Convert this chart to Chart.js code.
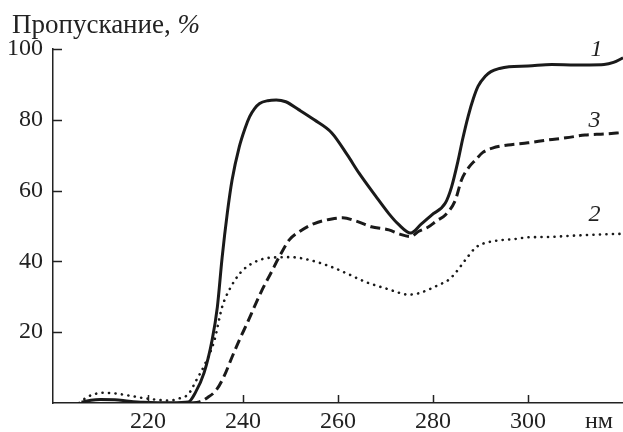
<!DOCTYPE html>
<html>
<head>
<meta charset="utf-8">
<script src="https://cdn.jsdelivr.net/npm/chart.js@4/dist/chart.umd.min.js"></script>
<style>
  html, body { margin: 0; padding: 0; background: #fff; }
  #wrap { width: 623px; height: 432px; position: relative; }
</style>
</head>
<body>
<div id="wrap"><canvas id="c"></canvas></div>
<script>
// Curve 1 (solid)
const nm1 = [206,208,210,213,216,219,222,225,228.5,230,231.8,233.5,234.6,235.6,236.7,237.7,239.2,240.4,241.4,242.4,243.5,245.2,247,249,251.8,255,258.7,262,264.4,267.9,270.7,272.7,275.3,277.5,279.7,282.6,283.9,285.3,286.2,287.4,288.5,289.5,291,292.2,294,296,300,305,310,313,316,318,320];
const tr1 = [0.2,0.8,1.0,0.9,0.5,0.2,0.1,0.1,0.3,3,8.5,17.8,27.1,41,53.7,63,72.3,77.5,80.9,83.1,84.6,85.4,85.6,85.1,82.8,80,76.3,70,65,58.5,53.5,50.5,48,50.5,53.1,56.5,61,68.6,74.3,81,86,89.5,92.3,93.6,94.5,95,95.2,95.6,95.5,95.5,95.6,96.2,97.5];
// Curve 2 (dotted)
const nm2 = [205.5,207,208.5,210.5,213,216,219,222,224.5,226.6,228.5,230.2,232,234,235.6,237.1,239.4,242,245.5,250,254,258.7,262,265.8,268.5,270.7,272.7,274.8,277,279,281.1,283.2,284.7,286.8,288.9,290.5,292.2,295,297.1,300,304,310,315,320];
const tr2 = [0,1.5,2.4,2.9,2.7,2.1,1.4,0.9,0.7,1.3,2.5,6.5,11,17.8,27.1,31.9,36.7,39.5,41,41.2,40.4,38.4,36.5,34.2,33,32.1,31.2,30.6,31,32,33.3,34.7,36.7,40.4,43.8,45,45.6,46.1,46.3,46.8,46.9,47.3,47.6,47.8];
// Curve 3 (dashed)
const nm3 = [229,230.8,232.5,234.4,236,237.7,239.3,240.9,242.5,244,245.8,247.6,249.7,252,255,258.7,261,264,267,270.7,273,275.3,277,279,280.8,282.6,284.7,286,287.5,288.9,290.5,292.5,295.8,300,304.2,308,312,316,320];
const tr3 = [0,0.3,1.5,3.7,7.5,13,18,22.6,27.5,31.9,36.5,41.2,46,48.5,50.7,52,52.3,51.3,49.8,48.9,47.7,47,48.5,49.7,51.5,53.1,57.3,63,66.5,68.6,70.8,72,72.9,73.5,74.3,74.9,75.7,76,76.4];

const xTicks = [220, 240, 260, 280, 300];
const yTicks = [20, 40, 60, 80, 100];
const yTitle = 'Пропускание, ';
const yTitleUnit = '%';
const xUnit = 'нм';
const curveLabels = [
  { text: '1', x: 314.4, y: 97.9 },
  { text: '2', x: 314, y: 51.3 },
  { text: '3', x: 314, y: 78 }
];

const toPts = (xs, ys) => xs.map((x, i) => ({ x, y: ys[i] }));
const FONT = "'Liberation Serif', 'Times New Roman', serif";

const decor = {
  id: 'decor',
  afterDraw(chart) {
    const ctx = chart.ctx;
    const xs = chart.scales.x, ys = chart.scales.y;
    const a = chart.chartArea;
    ctx.save();
    ctx.strokeStyle = '#222';
    ctx.lineWidth = 1.5;
    ctx.beginPath();
    xTicks.forEach(v => {
      const px = Math.round(xs.getPixelForValue(v)) + 0.5;
      ctx.moveTo(px, a.bottom);
      ctx.lineTo(px, a.bottom - 8);
    });
    yTicks.forEach(v => {
      const py = Math.round(ys.getPixelForValue(v)) + 0.5;
      ctx.moveTo(a.left, py);
      ctx.lineTo(a.left + 9, py);
    });
    ctx.stroke();

    ctx.fillStyle = '#222';
    ctx.textBaseline = 'alphabetic';
    ctx.textAlign = 'left';
    ctx.font = '27px ' + FONT;
    ctx.fillText(yTitle, 12, 33);
    const w = ctx.measureText(yTitle).width;
    ctx.font = 'italic 27px ' + FONT;
    ctx.fillText(yTitleUnit, 12 + w, 33);

    ctx.font = '24px ' + FONT;
    ctx.textAlign = 'center';
    ctx.fillText(xUnit, 599, 428);

    ctx.font = 'italic 24px ' + FONT;
    curveLabels.forEach(l => {
      ctx.fillText(l.text, xs.getPixelForValue(l.x), ys.getPixelForValue(l.y));
    });
    ctx.restore();
  }
};

new Chart(document.getElementById('c'), {
  type: 'line',
  data: {
    datasets: [
      { label: '1', data: toPts(nm1, tr1), borderColor: '#1a1a1a', borderWidth: 3, pointRadius: 0, fill: false, cubicInterpolationMode: 'monotone' },
      { label: '2', data: toPts(nm2, tr2), borderColor: '#1a1a1a', borderWidth: 2.6, borderDash: [0.1, 6.4], borderCapStyle: 'round', pointRadius: 0, fill: false, cubicInterpolationMode: 'monotone' },
      { label: '3', data: toPts(nm3, tr3), borderColor: '#1a1a1a', borderWidth: 3, borderDash: [10, 5], pointRadius: 0, fill: false, cubicInterpolationMode: 'monotone' }
    ]
  },
  options: {
    responsive: true,
    maintainAspectRatio: false,
    animation: false,
    layout: { padding: { top: 49, right: 0, left: 0, bottom: 0 } },
    plugins: { legend: { display: false }, tooltip: { enabled: false } },
    scales: {
      x: {
        type: 'linear', min: 200, max: 320,
        ticks: { stepSize: 20, color: '#222', padding: 4, font: { family: FONT, size: 24 },
          callback: v => (v === 200 || v === 320) ? '' : v },
        grid: { drawOnChartArea: false, drawTicks: false },
        border: { color: '#222', width: 1.5 },
        afterFit: s => { s.height = 29; s.paddingRight = 0; s.paddingLeft = 0; }
      },
      y: {
        min: 0, max: 100,
        ticks: { stepSize: 20, color: '#222', padding: 10, font: { family: FONT, size: 24 },
          callback: v => v === 0 ? '' : v },
        grid: { drawOnChartArea: false, drawTicks: false },
        border: { color: '#222', width: 1.5 },
        afterFit: s => { s.width = 53; }
      }
    }
  },
  plugins: [decor]
});
</script>
</body>
</html>
